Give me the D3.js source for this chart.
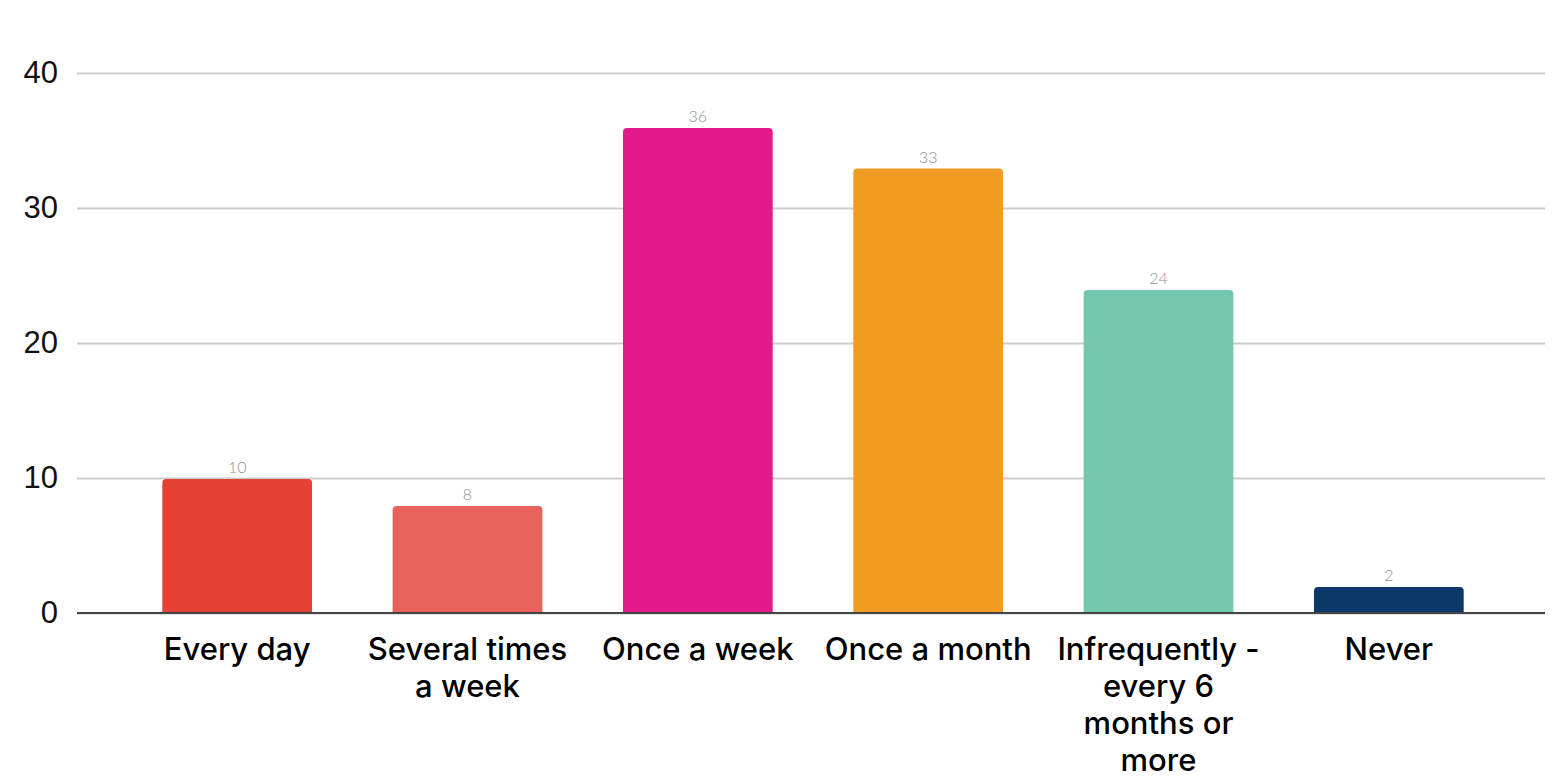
<!DOCTYPE html>
<html>
<head>
<meta charset="utf-8">
<script src="https://cdn.jsdelivr.net/npm/d3@7"></script>
<style>
  body { margin: 0; background: #fff; }
  svg { display: block; }
</style>
</head>
<body>
<svg id="chart"></svg>
<script>
const categories = ["Every day", "Several times a week", "Once a week", "Once a month", "Infrequently - every 6 months or more", "Never"]
const counts = [10, 8, 36, 33, 24, 2]
const barColors = ["#e34235", "#e8625b", "#e4198a", "#f09c23", "#72c7ac", "#0c3869"]
const yTicks = [0, 10, 20, 30, 40]

const width = 1552, height = 780
const margin = { top: 73, right: 7, bottom: 167, left: 77 }

const svg = d3.select("#chart")
    .attr("width", width)
    .attr("height", height)

const x = d3.scaleBand()
    .domain(categories)
    .range([122, 1504])
    .paddingInner(0.35)
    .paddingOuter(0.175)

const y = d3.scaleLinear()
    .domain([0, 40])
    .range([height - margin.bottom, margin.top])

// grid lines + tick labels
const yAxis = svg.append("g")
    .attr("transform", `translate(${margin.left},0)`)
    .call(d3.axisLeft(y).tickValues(yTicks).tickSize(-(width - margin.left - margin.right)).tickPadding(19))
yAxis.select(".domain").remove()
yAxis.selectAll(".tick line")
    .attr("stroke", "#cccccc")
    .attr("stroke-width", 2)
yAxis.selectAll(".tick text")
    .attr("fill", "#111")
    .style("font-family", "'Liberation Sans', Arial, sans-serif")
    .style("font-size", "31px")

// bars with rounded tops
const r = 4
svg.append("g").selectAll("path")
    .data(categories)
    .join("path")
    .attr("fill", (d, i) => barColors[i])
    .attr("d", (d, i) => {
        const x0 = x(d), w = x.bandwidth(), y0 = y(counts[i]) + 1, yb = y(0)
        return `M${x0},${yb}V${y0 + r}Q${x0},${y0} ${x0 + r},${y0}H${x0 + w - r}Q${x0 + w},${y0} ${x0 + w},${y0 + r}V${yb}Z`
    })

// value labels
svg.append("g").selectAll("text")
    .data(categories)
    .join("text")
    .attr("x", d => x(d) + x.bandwidth() / 2)
    .attr("y", (d, i) => y(counts[i]) - 5)
    .attr("text-anchor", "middle")
    .attr("fill", "#8f8f8f")
    .style("font-family", "Lato, sans-serif")
    .style("font-weight", 300)
    .style("font-size", "16px")
    .text((d, i) => counts[i])

// baseline
svg.append("line")
    .attr("x1", margin.left)
    .attr("x2", width - margin.right)
    .attr("y1", y(0))
    .attr("y2", y(0))
    .attr("stroke", "#444")
    .attr("stroke-width", 2)

// category labels, wrapped
const xAxis = svg.append("g")
    .attr("transform", `translate(0,${y(0)})`)
    .call(d3.axisBottom(x).tickSize(0).tickPadding(0))
xAxis.select(".domain").remove()
xAxis.selectAll(".tick text")
    .attr("fill", "#000")
    .attr("dy", null)
    .style("font-family", "Inter, sans-serif")
    .style("font-weight", 500)
    .style("font-size", "31px")
    .call(wrap, 212)

function wrap(texts, maxW) {
    texts.each(function () {
        const text = d3.select(this)
        const words = text.text().split(/\s+/)
        text.text(null)
        let line = [], lineNo = 0
        let tspan = text.append("tspan").attr("x", 0).attr("y", 47)
        for (const w of words) {
            line.push(w)
            tspan.text(line.join(" "))
            if (tspan.node().getComputedTextLength() > maxW && line.length > 1) {
                line.pop()
                tspan.text(line.join(" "))
                line = [w]
                lineNo++
                tspan = text.append("tspan").attr("x", 0).attr("y", 47 + lineNo * 37).text(w)
            }
        }
    })
}
</script>
</body>
</html>
